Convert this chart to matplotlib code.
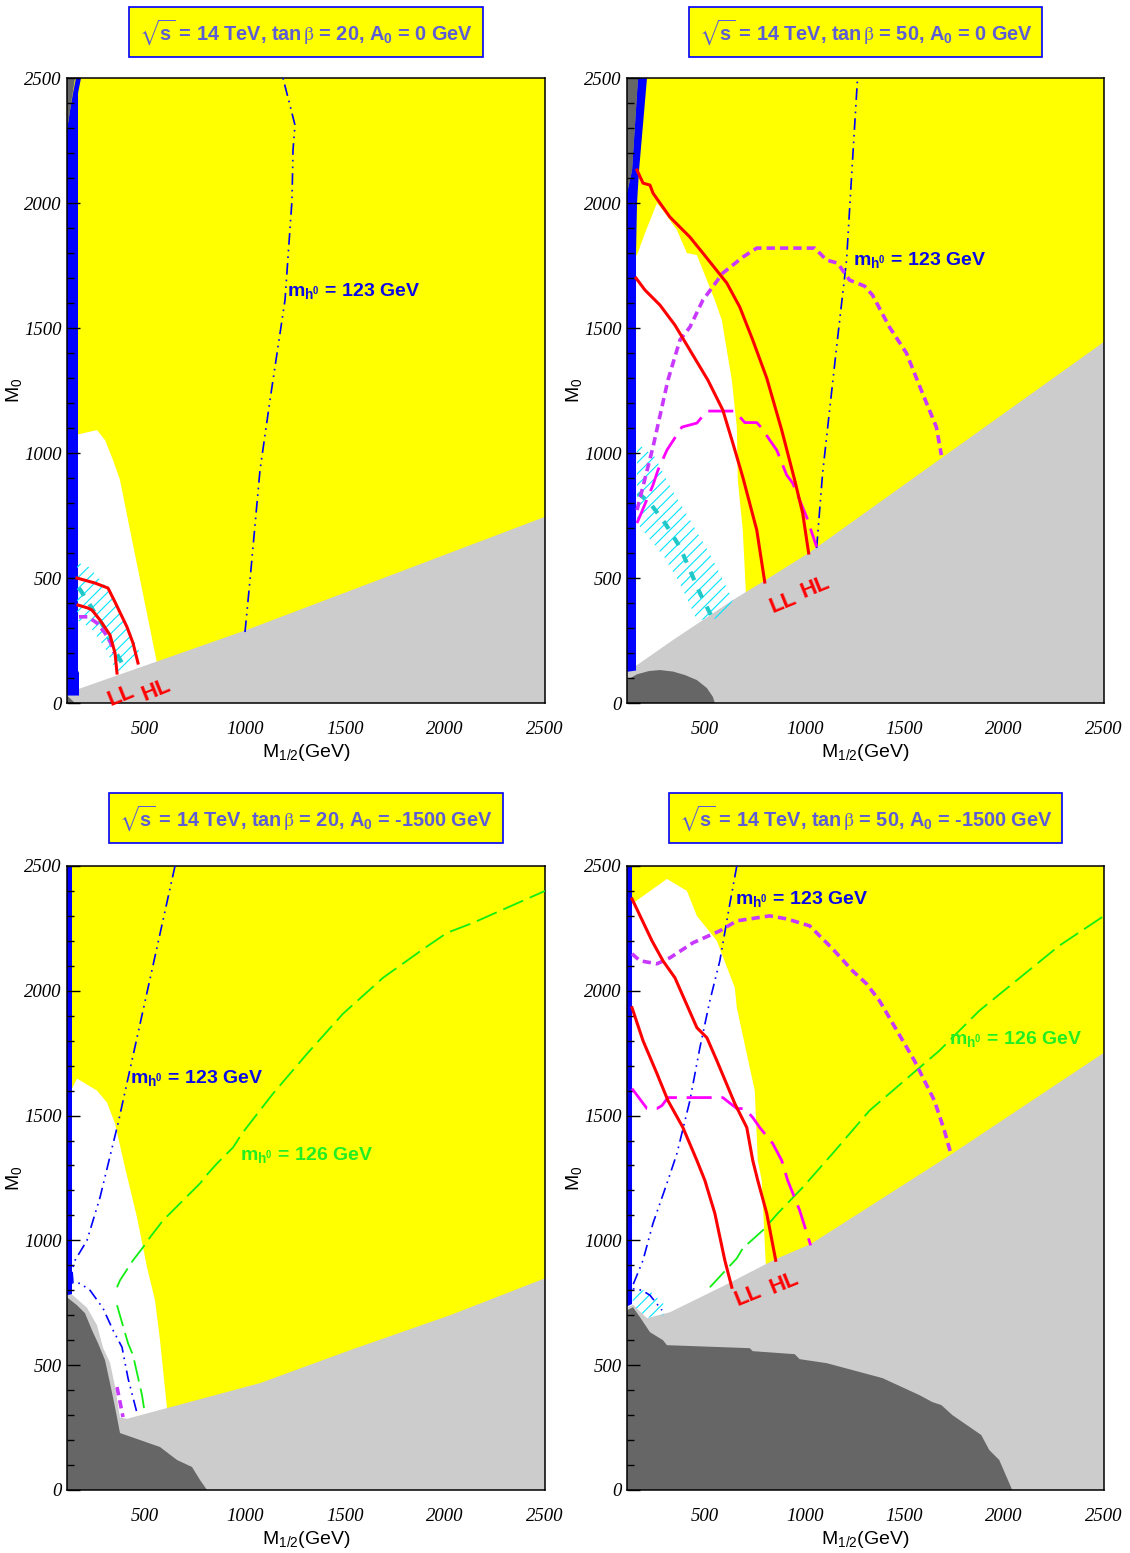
import matplotlib.pyplot as plt
import numpy as np
from matplotlib.ticker import MultipleLocator

plt.rcParams['mathtext.fontset'] = 'stix'
plt.rcParams['hatch.linewidth'] = 0.8
plt.rcParams['hatch.color'] = '#00e5ff'

# ---------- tan(beta) = 20, A0 = 0 ----------
tl_light_gray = [(110, 40), (1000, 290), (2500, 745)]
tl_dark_gray = [(110, 2500), (150, 2500), (125, 2370), (110, 2290)]
tl_dark_corner = [(110, 0), (150, 0), (110, 30)]
tl_blue = [(155, 2500), (180, 2500), (165, 2440), (165, 130), (170, 120), (170, 30),
           (110, 30), (110, 2290), (125, 2370), (140, 2440)]
tl_white = [(110, 1070), (150, 1072), (260, 1092), (300, 1052), (340, 972), (375, 892),
            (415, 732), (560, 160), (560, 0), (110, 0)]
tl_hatch = [(160, 564), (220, 544), (300, 470), (400, 330), (480, 190), (440, 160),
            (360, 124), (300, 220), (230, 300), (160, 332)]
tl_cyan = [(170, 460), (210, 412), (240, 372), (290, 310), (335, 232), (390, 152)]
tl_hl = [(160, 500), (250, 480), (315, 460), (350, 404), (410, 304), (440, 240), (465, 160)]
tl_ll = [(165, 392), (215, 380), (235, 372), (275, 332), (325, 272), (350, 200), (360, 120)]
tl_mag_short = [(170, 345), (215, 345), (260, 320), (300, 280), (330, 240), (345, 200)]
tl_mh123 = [(1000, 284), (1025, 492), (1075, 932), (1125, 1212), (1200, 1612),
            (1235, 2012), (1240, 2212), (1250, 2312), (1190, 2500)]

# ---------- tan(beta) = 50, A0 = 0 ----------
tr_light_gray = [(110, 124), (340, 252), (640, 412), (800, 490), (1020, 600), (2500, 1445)]
tr_dark_gray = [(110, 2500), (165, 2500), (135, 2130), (110, 2040)]
tr_dark_bottom = [(110, 0), (110, 92), (160, 115), (220, 128), (275, 132), (340, 126),
                  (400, 112), (460, 92), (510, 60), (540, 25), (550, 0)]
tr_blue = [(165, 2500), (210, 2500), (170, 2130), (160, 2000), (155, 1800), (155, 130),
           (110, 125), (110, 2040), (135, 2130)]
tr_white = [(110, 1780), (160, 1792), (200, 1880), (260, 2000), (300, 1960), (360, 1892),
            (410, 1800), (460, 1792), (550, 1612), (585, 1532), (635, 1292), (660, 1104),
            (665, 892), (690, 692), (705, 452), (710, 0), (110, 0)]
tr_hatch = [(160, 1040), (250, 984), (330, 860), (420, 740), (530, 590), (640, 412),
            (590, 340), (460, 332), (380, 470), (300, 580), (220, 660), (160, 720)]
tr_cyan = [(165, 840), (225, 800), (300, 720), (375, 624), (425, 532), (475, 440), (535, 344)]
tr_hl = [(160, 2132), (190, 2080), (225, 2072), (240, 2040), (275, 2000), (325, 1944),
         (390, 1892), (425, 1864), (490, 1800), (610, 1680), (675, 1584), (740, 1452),
         (810, 1300), (885, 1092), (950, 892), (990, 760), (1020, 600)]
tr_ll = [(155, 1700), (200, 1652), (275, 1592), (350, 1512), (425, 1412), (515, 1292),
         (590, 1172), (640, 1040), (690, 904), (760, 692), (800, 484)]
tr_mag_short = [(160, 772), (240, 1024), (315, 1292), (375, 1452), (425, 1504), (490, 1612),
                (590, 1720), (690, 1784), (760, 1820), (1050, 1820), (1110, 1772),
                (1165, 1760), (1225, 1692), (1300, 1668), (1340, 1632), (1425, 1504),
                (1510, 1400), (1590, 1240), (1660, 1104), (1685, 992)]
tr_mag_long = [(160, 720), (240, 872), (265, 932), (310, 1012), (385, 1104), (460, 1120),
               (510, 1168), (650, 1168), (700, 1122), (760, 1122), (785, 1100), (825, 1052),
               (860, 1012), (910, 912), (940, 880), (1010, 744), (1060, 624)]
tr_mh123 = [(1060, 620), (1090, 920), (1160, 1424), (1210, 1772), (1240, 2172), (1265, 2500)]

# ---------- tan(beta) = 20, A0 = -1500 ----------
bl_light_gray = [(110, 800), (210, 730), (260, 660), (290, 570), (325, 510), (350, 415),
                 (375, 290), (410, 285), (610, 328), (1075, 428), (1525, 560), (2025, 700),
                 (2500, 848)]
bl_dark_gray = [(110, 0), (110, 772), (160, 740), (200, 708), (235, 640), (265, 588),
                (300, 520), (325, 428), (350, 332), (375, 228), (475, 200), (575, 172),
                (660, 120), (735, 92), (775, 40), (810, 0)]
bl_blue = [(110, 780), (135, 785), (135, 2500), (110, 2500)]
bl_white = [(110, 1600), (135, 1608), (160, 1648), (260, 1600), (310, 1552), (350, 1468),
            (400, 1292), (460, 1092), (510, 892), (550, 760), (575, 600), (610, 328),
            (610, 0), (110, 0)]
bl_mh123 = [(650, 2500), (365, 1468), (275, 1172), (210, 1000), (150, 920), (135, 880),
            (140, 828), (175, 828), (225, 800), (290, 728), (340, 640), (385, 572),
            (415, 448), (460, 308)]
bl_mh126 = [(360, 812), (375, 840), (440, 920), (490, 972), (525, 1012), (590, 1080),
            (675, 1148), (775, 1228), (815, 1268), (860, 1308), (940, 1372), (985, 1428),
            (1140, 1588), (1315, 1752), (1490, 1908), (1690, 2052), (1900, 2172),
            (2010, 2232), (2140, 2272), (2500, 2400)]
bl_mh126_low = [(360, 740), (415, 588), (440, 540), (485, 380), (495, 328)]
bl_mag_short = [(360, 412), (390, 292)]

# ---------- tan(beta) = 50, A0 = -1500 ----------
br_light_gray = [(110, 732), (140, 742), (210, 688), (325, 712), (600, 820), (855, 925),
                 (1030, 985), (1735, 1345), (2500, 1752)]
br_dark_gray = [(110, 0), (110, 720), (140, 732), (175, 692), (225, 632), (290, 600),
                (310, 580), (725, 568), (740, 556), (950, 544), (975, 524), (1110, 508),
                (1390, 448), (1575, 380), (1640, 352), (1685, 340), (1740, 300),
                (1885, 220), (1925, 160), (1975, 120), (2040, 0)]
br_blue = [(110, 735), (135, 745), (135, 2500), (110, 2500)]
br_white = [(110, 2340), (135, 2348), (310, 2448), (410, 2400), (460, 2300), (560, 2200),
            (650, 2012), (660, 1932), (750, 1600), (765, 1320), (785, 1240), (805, 908),
            (810, 0), (110, 0)]
br_hatch = [(135, 800), (220, 800), (300, 740), (290, 700), (210, 690), (140, 740)]
br_hl = [(135, 2368), (235, 2200), (290, 2120), (350, 2052), (460, 1852), (510, 1812),
         (560, 1720), (650, 1548), (710, 1452), (740, 1320), (765, 1240), (810, 1108),
         (855, 920)]
br_ll = [(135, 1932), (190, 1800), (260, 1668), (315, 1560), (390, 1452), (460, 1320),
         (500, 1240), (550, 1108), (600, 920), (635, 812)]
br_mag_short = [(135, 2148), (175, 2120), (260, 2108), (325, 2132), (440, 2192),
                (575, 2240), (660, 2280), (825, 2300), (910, 2288), (1025, 2260),
                (1140, 2168), (1240, 2080), (1310, 2028), (1375, 1960), (1550, 1720),
                (1650, 1560), (1700, 1440), (1735, 1340)]
br_mag_long = [(135, 1608), (210, 1528), (260, 1528), (285, 1540), (315, 1572), (590, 1572),
               (660, 1528), (700, 1528), (740, 1492), (775, 1452), (840, 1388), (885, 1320),
               (915, 1240), (975, 1120), (1030, 980)]
br_mh123 = [(660, 2500), (625, 2348), (575, 2120), (525, 1960), (475, 1772), (425, 1560),
            (360, 1348), (315, 1240), (240, 1068), (190, 920), (135, 812), (140, 806),
            (185, 800), (225, 780), (285, 720)]
br_mh126 = [(525, 812), (660, 928), (690, 968), (790, 1040), (865, 1108), (990, 1212),
            (1140, 1348), (1325, 1520), (1675, 1760), (1875, 1920), (2275, 2180), (2500, 2300)]

YELLOW = '#ffff00'
LGRAY = '#cccccc'
DGRAY = '#666666'
BLUE = '#0000ff'
RED = '#ff0000'
PURPLE = '#c838ff'
MAGENTA = '#ff00ff'
CYAN = '#20c8c8'
GREEN = '#11ee11'
TITLE_C = '#5c5cd6'

SANS = ['Liberation Sans', 'DejaVu Sans']

fig = plt.figure(figsize=(11.3, 15.53), dpi=100)
axes = {
    'tl': fig.add_axes([0.0593, 0.5473, 0.4230, 0.4024]),
    'tr': fig.add_axes([0.5549, 0.5473, 0.4221, 0.4024]),
    'bl': fig.add_axes([0.0593, 0.0406, 0.4230, 0.4018]),
    'br': fig.add_axes([0.5549, 0.0406, 0.4221, 0.4018]),
}


def arr(pts):
    a = np.array(pts, dtype=float)
    return a[:, 0], a[:, 1]


def fill(ax, pts, color, z):
    x, y = arr(pts)
    ax.fill(x, y, color=color, lw=0, zorder=z)


def under(pts):
    # close a boundary curve down to the bottom of the plane
    return list(pts) + [(2500, 0), (110, 0)]


def hatch(ax, pts):
    x, y = arr(pts)
    ax.fill(x, y, facecolor='none', edgecolor='#00e5ff', hatch='///', lw=0, zorder=1.6)


def line(ax, pts, color, lw, dashes=None, z=3):
    x, y = arr(pts)
    l, = ax.plot(x, y, color=color, lw=lw, zorder=z, solid_joinstyle='round')
    if dashes:
        l.set_dashes(dashes)


def red(ax, pts):
    line(ax, pts, RED, 2.2, z=3.2)


def mag_short(ax, pts):
    line(ax, pts, PURPLE, 2.6, (2.3, 1.4), z=3.1)


def mag_long(ax, pts):
    line(ax, pts, MAGENTA, 2.0, (9, 3.5), z=3.1)


def cyan(ax, pts):
    line(ax, pts, CYAN, 3.0, (2.2, 2.4), z=3.0)


def mh123(ax, pts):
    line(ax, pts, BLUE, 1.2, (7, 3, 1, 3, 1, 3), z=3.0)


def mh126(ax, pts):
    line(ax, pts, GREEN, 1.3, (12, 4), z=3.0)


def mh_label(ax, x, y, mass, color):
    ax.text(x, y, r'$\mathregular{m_{h^0}}$ = %d GeV' % mass, color=color,
            fontsize=14, fontweight='bold', family=SANS, va='center', ha='left', zorder=5)


def lh_labels(ax, ll_xy, hl_xy):
    for txt, (x, y) in (('LL', ll_xy), ('HL', hl_xy)):
        ax.text(x, y, txt, color=RED, fontsize=16, fontweight='bold', family=SANS,
                rotation=22, ha='center', va='center', zorder=5)


def frame(ax, tanb, a0, ytitle):
    ax.set_facecolor(YELLOW)
    ax.set_xlim(110, 2500)
    ax.set_ylim(0, 2500)
    ax.set_axisbelow(False)
    ax.set_xticks([500, 1000, 1500, 2000, 2500])
    ax.set_yticks([0, 500, 1000, 1500, 2000, 2500])
    ax.yaxis.set_minor_locator(MultipleLocator(100))
    ax.tick_params(axis='y', which='major', direction='in', length=9.5, width=1, pad=4,
                   labelsize=13.5)
    ax.tick_params(axis='y', which='minor', direction='in', length=5, width=1)
    ax.tick_params(axis='x', which='both', length=0, pad=13, labelsize=13.5)
    for lbl in ax.get_xticklabels() + ax.get_yticklabels():
        lbl.set_fontfamily('Liberation Serif')
        lbl.set_fontstyle('italic')
    for s in ax.spines.values():
        s.set_linewidth(1.1)
    ax.set_xlabel(r'M$\mathregular{_{1/2}}$(GeV)', fontsize=14, family=SANS, labelpad=3)
    ax.set_ylabel(r'M$\mathregular{_0}$', fontsize=14, family=SANS, labelpad=0)
    title = (r'$\sqrt{\mathregular{s}}$ = 14 TeV, tan$\,\mathrm{\beta}$ = %d, '
             r'A$\mathregular{_{0}}$ = %d GeV' % (tanb, a0))
    ax.text(0.5, ytitle, title, transform=ax.transAxes, ha='center', va='center',
            fontsize=14.3, fontweight='bold', family=SANS, color=TITLE_C,
            bbox=dict(boxstyle='square,pad=0.5', fc=YELLOW, ec=BLUE, lw=1.2))


# top left
ax = axes['tl']
frame(ax, 20, 0, 1.074)
fill(ax, tl_white, 'white', 1.0)
fill(ax, under(tl_light_gray), LGRAY, 1.2)
fill(ax, tl_dark_gray, DGRAY, 1.3)
fill(ax, tl_dark_corner, DGRAY, 1.3)
fill(ax, tl_blue, BLUE, 1.4)
hatch(ax, tl_hatch)
cyan(ax, tl_cyan)
mag_short(ax, tl_mag_short)
red(ax, tl_hl)
red(ax, tl_ll)
mh123(ax, tl_mh123)
mh_label(ax, 1210, 1648, 123, '#0a0ae6')
lh_labels(ax, (378, 30), (555, 52))

# top right
ax = axes['tr']
frame(ax, 50, 0, 1.074)
fill(ax, tr_white, 'white', 1.0)
fill(ax, under(tr_light_gray), LGRAY, 1.2)
fill(ax, tr_dark_bottom, DGRAY, 1.3)
fill(ax, tr_dark_gray, DGRAY, 1.3)
fill(ax, tr_blue, BLUE, 1.4)
hatch(ax, tr_hatch)
cyan(ax, tr_cyan)
mag_short(ax, tr_mag_short)
mag_long(ax, tr_mag_long)
red(ax, tr_hl)
red(ax, tr_ll)
mh123(ax, tr_mh123)
mh_label(ax, 1240, 1772, 123, '#0a0ae6')
lh_labels(ax, (890, 400), (1055, 464))

# bottom left
ax = axes['bl']
frame(ax, 20, -1500, 1.077)
fill(ax, bl_white, 'white', 1.0)
fill(ax, under(bl_light_gray), LGRAY, 1.2)
fill(ax, bl_dark_gray, DGRAY, 1.3)
fill(ax, bl_blue, BLUE, 1.4)
mh126(ax, bl_mh126)
mh126(ax, bl_mh126_low)
mag_short(ax, bl_mag_short)
mh123(ax, bl_mh123)
mh_label(ax, 425, 1652, 123, '#0a0ae6')
mh_label(ax, 975, 1340, 126, '#22ee22')

# bottom right
ax = axes['br']
frame(ax, 50, -1500, 1.077)
fill(ax, br_white, 'white', 1.0)
fill(ax, under(br_light_gray), LGRAY, 1.2)
fill(ax, br_dark_gray, DGRAY, 1.3)
fill(ax, br_blue, BLUE, 1.4)
hatch(ax, br_hatch)
mh126(ax, br_mh126)
mag_short(ax, br_mag_short)
mag_long(ax, br_mag_long)
red(ax, br_hl)
red(ax, br_ll)
mh123(ax, br_mh123)
mh_label(ax, 650, 2368, 123, '#0a0ae6')
mh_label(ax, 1725, 1808, 126, '#22ee22')
lh_labels(ax, (715, 776), (900, 828))

fig.savefig('out.png', dpi=100, facecolor='white')
